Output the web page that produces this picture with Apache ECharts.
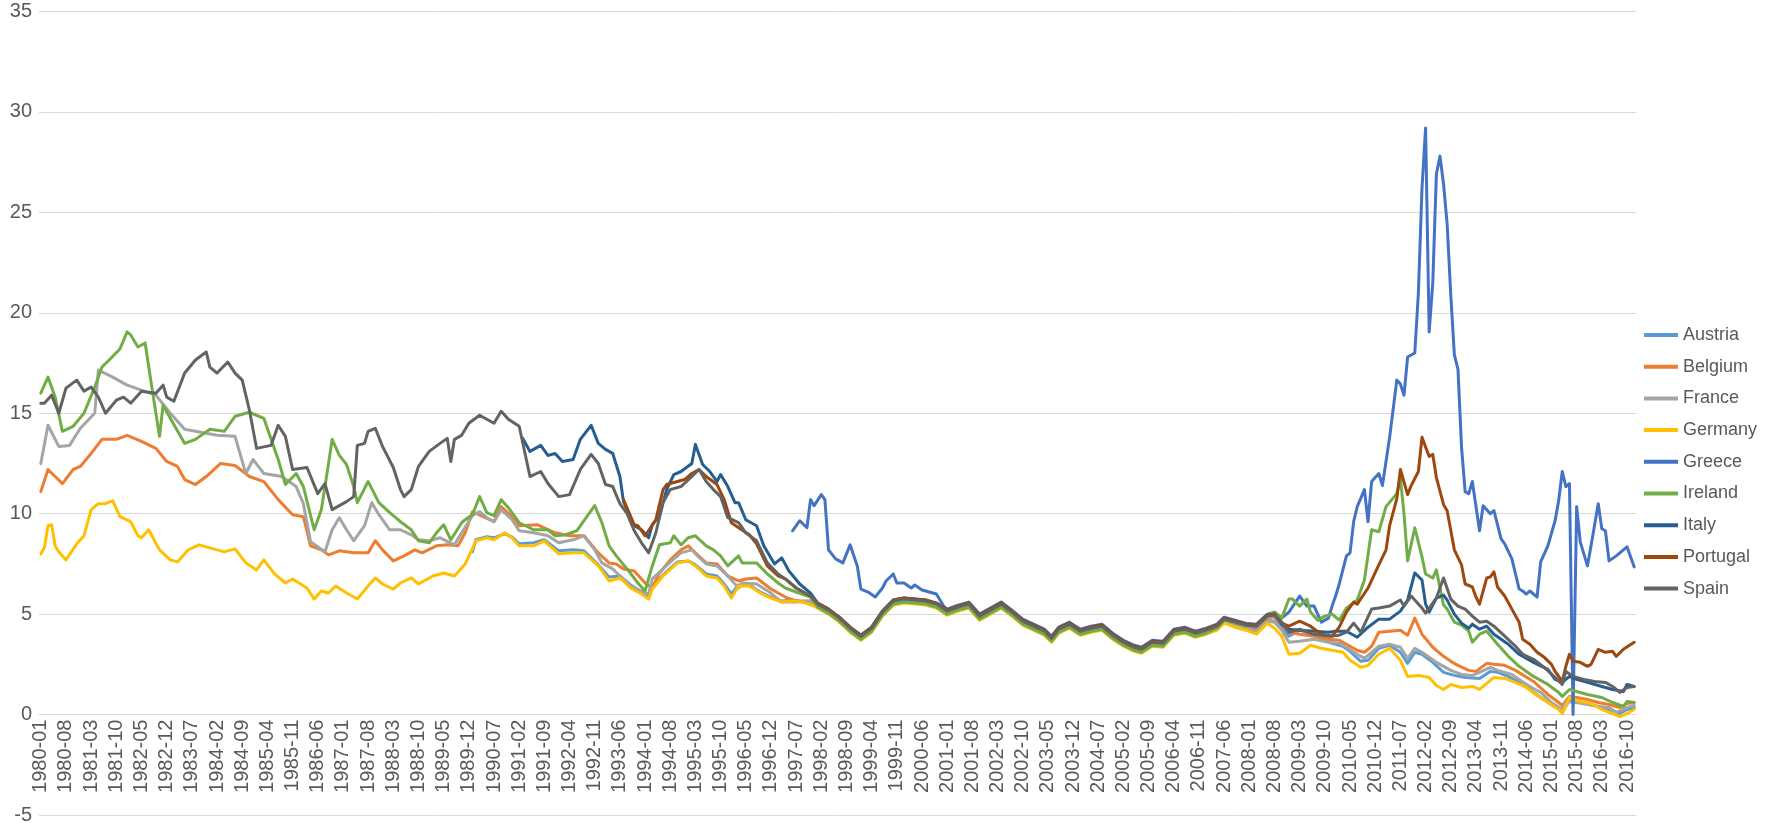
<!DOCTYPE html>
<html>
<head>
<meta charset="utf-8">
<script src="https://cdn.jsdelivr.net/npm/echarts@6/dist/echarts.min.js"></script>
<style>
html,body{margin:0;padding:0;background:#fff;}
#chart{width:1785px;height:823px;}
</style>
</head>
<body>
<div id="chart"></div>
<script>
// ---------- categories (monthly, 1980-01 .. 2016-12) ----------
const months = [];
for (let y = 1980; y <= 2016; y++) {
  for (let m = 1; m <= 12; m++) months.push(y + '-' + (m < 10 ? '0' + m : m));
}
const seriesNames = ['Austria','Belgium','France','Germany','Greece','Ireland','Italy','Portugal','Spain'];
const yTicks = [-5, 0, 5, 10, 15, 20, 25, 30, 35];

// sampled months of the converged period (1998-2008)
const convMonths = ['1998-01','1998-04','1998-07','1998-10','1999-01','1999-04','1999-07','1999-10','2000-01','2000-04','2000-07','2000-10','2001-01','2001-04','2001-07','2001-10','2002-01','2002-04','2002-07','2002-10','2003-01','2003-04','2003-06','2003-08','2003-11','2004-02','2004-05','2004-08','2004-11','2005-02','2005-05','2005-07','2005-10','2006-01','2006-04','2006-07','2006-10','2007-01','2007-04','2007-06','2007-09','2007-12','2008-03','2008-06','2008-08','2008-10'];

// ---------- Austria ----------
const austriaEarly = [['1990-01',8.1],['1990-02',8.7],['1990-05',8.85],['1990-07',8.8],['1990-10',9.0],['1990-12',8.85],['1991-02',8.5],['1991-06',8.55],['1991-09',8.7],['1992-01',8.15],['1992-05',8.2],['1992-08',8.15],['1992-12',7.45],['1993-03',6.85],['1993-06',6.9],['1993-09',6.45],['1993-12',6.1],['1994-02',5.85],['1994-03',6.35],['1994-06',6.95],['1994-10',7.6],['1995-01',7.65],['1995-03',7.45],['1995-06',7.0],['1995-09',6.9],['1995-11',6.5],['1996-01',6.0],['1996-03',6.45],['1996-06',6.45],['1996-09',6.1],['1996-12',5.85],['1997-03',5.65],['1997-06',5.7],['1997-09',5.6],['1997-12',5.45]];
const austriaConv = [5.4,5.1,4.7,4.2,3.8,4.2,5.0,5.55,5.65,5.6,5.55,5.4,5.05,5.25,5.4,4.8,5.1,5.4,5.0,4.55,4.3,4.05,3.7,4.15,4.4,4.05,4.2,4.3,3.85,3.5,3.25,3.15,3.5,3.45,4.05,4.15,3.95,4.1,4.3,4.65,4.5,4.35,4.25,4.7,4.65,4.3];
const austriaLate = [['2008-12',3.9],['2009-03',4.2],['2009-06',4.0],['2009-09',3.75],['2009-12',3.55],['2010-03',3.4],['2010-05',3.15],['2010-08',2.65],['2010-10',2.7],['2011-01',3.3],['2011-04',3.45],['2011-07',3.1],['2011-09',2.55],['2011-11',3.1],['2012-01',3.0],['2012-04',2.6],['2012-07',2.1],['2012-10',1.95],['2013-01',1.85],['2013-05',1.8],['2013-08',2.15],['2013-10',2.1],['2014-01',1.9],['2014-04',1.6],['2014-07',1.25],['2014-10',0.85],['2015-01',0.5],['2015-04',0.15],['2015-06',0.7],['2015-09',0.6],['2015-12',0.5],['2016-03',0.35],['2016-06',0.2],['2016-08',0.05],['2016-10',0.25],['2016-12',0.35]];

// ---------- Belgium ----------
const belgiumEarly = [['1980-01',11.1],['1980-03',12.2],['1980-05',11.85],['1980-07',11.5],['1980-10',12.2],['1980-12',12.35],['1981-03',13.0],['1981-06',13.7],['1981-10',13.7],['1982-01',13.9],['1982-05',13.6],['1982-09',13.25],['1982-12',12.6],['1983-03',12.35],['1983-05',11.7],['1983-08',11.45],['1983-11',11.85],['1984-03',12.5],['1984-07',12.4],['1984-11',11.85],['1985-03',11.6],['1985-07',10.7],['1985-11',9.95],['1986-02',9.85],['1986-04',8.4],['1986-07',8.2],['1986-09',7.95],['1986-12',8.15],['1987-04',8.05],['1987-08',8.05],['1987-10',8.65],['1987-12',8.2],['1988-03',7.65],['1988-06',7.9],['1988-09',8.2],['1988-11',8.05],['1989-03',8.4],['1989-06',8.45],['1989-09',8.4],['1989-11',9.05],['1990-01',10.1],['1990-04',9.85],['1990-07',9.6],['1990-09',10.35],['1990-12',9.85],['1991-02',9.4],['1991-07',9.45],['1991-12',9.05],['1992-04',8.9],['1992-08',8.9],['1992-12',8.05],['1993-03',7.55],['1993-05',7.5],['1993-07',7.25],['1993-10',7.15],['1994-01',6.55],['1994-03',6.3],['1994-05',7.05],['1994-08',7.7],['1994-11',8.2],['1995-01',8.4],['1995-03',8.05],['1995-06',7.55],['1995-09',7.5],['1995-12',6.9],['1996-03',6.65],['1996-05',6.75],['1996-08',6.8],['1996-12',6.25],['1997-04',5.85],['1997-07',5.65],['1997-11',5.65]];
const belgiumConv = [5.45,5.15,4.75,4.25,3.85,4.25,5.05,5.6,5.7,5.65,5.6,5.45,5.1,5.3,5.45,4.85,5.15,5.45,5.05,4.6,4.35,4.1,3.75,4.2,4.45,4.1,4.25,4.35,3.9,3.55,3.3,3.2,3.55,3.5,4.1,4.2,4.0,4.15,4.35,4.7,4.55,4.4,4.35,4.85,4.85,4.5];
const belgiumLate = [['2008-12',4.1],['2009-03',4.0],['2009-07',3.9],['2009-11',3.75],['2010-02',3.7],['2010-04',3.5],['2010-07',3.2],['2010-09',3.1],['2010-11',3.4],['2011-01',4.1],['2011-04',4.15],['2011-07',4.2],['2011-09',3.95],['2011-11',4.8],['2012-01',4.0],['2012-04',3.35],['2012-07',2.9],['2012-09',2.65],['2012-11',2.45],['2013-02',2.2],['2013-04',2.15],['2013-07',2.55],['2013-09',2.5],['2013-12',2.45],['2014-03',2.2],['2014-08',1.65],['2014-12',1.0],['2015-03',0.6],['2015-04',0.45],['2015-06',0.9],['2015-08',0.85],['2015-11',0.75],['2016-02',0.6],['2016-05',0.5],['2016-08',0.35],['2016-10',0.55],['2016-12',0.6]];

// ---------- France ----------
const franceEarly = [['1980-01',12.5],['1980-03',14.4],['1980-06',13.35],['1980-09',13.4],['1980-12',14.25],['1981-04',15.0],['1981-05',17.15],['1981-09',16.8],['1982-01',16.4],['1982-05',16.15],['1982-09',15.9],['1983-01',15.0],['1983-05',14.2],['1983-08',14.1],['1984-02',13.9],['1984-07',13.85],['1984-10',12.0],['1984-12',12.7],['1985-03',12.0],['1985-08',11.85],['1985-12',11.35],['1986-02',10.5],['1986-04',8.6],['1986-08',8.1],['1986-10',9.2],['1986-12',9.8],['1987-02',9.2],['1987-04',8.65],['1987-07',9.4],['1987-09',10.55],['1987-11',9.95],['1988-02',9.2],['1988-05',9.2],['1988-08',8.95],['1988-10',8.7],['1989-01',8.65],['1989-04',8.8],['1989-08',8.45],['1989-10',9.05],['1990-01',9.9],['1990-03',10.1],['1990-05',9.8],['1990-07',9.6],['1990-09',10.2],['1990-12',9.7],['1991-02',9.15],['1991-06',9.05],['1991-10',8.9],['1992-01',8.55],['1992-05',8.7],['1992-08',8.9],['1992-11',8.2],['1993-01',7.55],['1993-04',7.25],['1993-06',6.9],['1993-09',6.4],['1993-12',6.15],['1994-02',6.0],['1994-03',6.75],['1994-06',7.25],['1994-09',7.75],['1994-11',8.05],['1995-02',8.2],['1995-03',8.0],['1995-06',7.5],['1995-09',7.4],['1995-12',6.9],['1996-03',6.3],['1996-04',6.55],['1996-08',6.5],['1996-12',6.05],['1997-03',5.6],['1997-07',5.6],['1997-11',5.65]];
const franceConv = [5.4,5.1,4.7,4.2,3.8,4.2,5.0,5.55,5.65,5.6,5.55,5.4,5.05,5.25,5.4,4.8,5.1,5.4,5.0,4.55,4.3,4.05,3.7,4.15,4.4,4.05,4.2,4.3,3.85,3.5,3.25,3.15,3.5,3.45,4.05,4.15,3.95,4.1,4.3,4.65,4.5,4.3,4.15,4.65,4.6,4.2];
const franceLate = [['2008-12',3.6],['2009-03',3.65],['2009-07',3.75],['2009-11',3.6],['2010-02',3.55],['2010-04',3.35],['2010-07',3.0],['2010-09',2.8],['2011-01',3.4],['2011-04',3.5],['2011-07',3.35],['2011-09',2.8],['2011-11',3.3],['2012-01',3.1],['2012-05',2.6],['2012-09',2.2],['2012-12',2.0],['2013-03',1.95],['2013-05',2.1],['2013-08',2.35],['2013-10',2.2],['2014-02',2.0],['2014-04',1.75],['2014-07',1.4],['2014-10',1.1],['2015-01',0.6],['2015-04',0.25],['2015-05',0.65],['2015-08',0.6],['2015-11',0.5],['2016-02',0.4],['2016-05',0.35],['2016-07',0.1],['2016-10',0.35],['2016-12',0.45]];

// ---------- Germany ----------
const germanyEarly = [['1980-01',8.0],['1980-02',8.3],['1980-03',9.4],['1980-04',9.45],['1980-05',8.4],['1980-06',8.1],['1980-08',7.7],['1980-11',8.5],['1981-01',8.9],['1981-03',10.2],['1981-05',10.5],['1981-07',10.5],['1981-09',10.65],['1981-11',9.85],['1982-02',9.6],['1982-04',8.9],['1982-05',8.8],['1982-07',9.2],['1982-10',8.2],['1983-01',7.7],['1983-03',7.6],['1983-06',8.2],['1983-09',8.45],['1983-12',8.3],['1984-04',8.1],['1984-07',8.25],['1984-10',7.55],['1985-01',7.2],['1985-03',7.7],['1985-06',7.0],['1985-09',6.55],['1985-11',6.75],['1986-03',6.3],['1986-05',5.75],['1986-07',6.15],['1986-09',6.05],['1986-11',6.4],['1987-02',6.05],['1987-05',5.75],['1987-08',6.4],['1987-10',6.8],['1987-12',6.5],['1988-03',6.25],['1988-05',6.55],['1988-08',6.8],['1988-10',6.5],['1989-02',6.9],['1989-05',7.05],['1989-08',6.9],['1989-11',7.5],['1990-02',8.65],['1990-05',8.8],['1990-07',8.7],['1990-10',9.05],['1990-12',8.8],['1991-02',8.4],['1991-06',8.4],['1991-09',8.65],['1992-01',8.0],['1992-05',8.05],['1992-08',8.05],['1992-12',7.4],['1993-03',6.65],['1993-06',6.8],['1993-09',6.3],['1993-12',6.0],['1994-02',5.75],['1994-03',6.25],['1994-06',6.9],['1994-10',7.55],['1995-01',7.65],['1995-03',7.4],['1995-06',6.9],['1995-09',6.8],['1995-11',6.4],['1996-01',5.8],['1996-03',6.4],['1996-06',6.4],['1996-09',6.05],['1996-12',5.8],['1997-03',5.6],['1997-06',5.65],['1997-09',5.6],['1997-12',5.4]];
const germanyConv = [5.3,5.0,4.6,4.1,3.7,4.1,4.9,5.45,5.55,5.5,5.45,5.3,4.95,5.15,5.3,4.7,5.0,5.3,4.9,4.45,4.2,3.95,3.6,4.05,4.3,3.95,4.1,4.2,3.75,3.4,3.15,3.05,3.4,3.35,3.95,4.05,3.85,4.0,4.2,4.55,4.35,4.2,4.0,4.55,4.3,3.9];
const germanyLate = [['2008-12',3.0],['2009-03',3.05],['2009-06',3.45],['2009-09',3.3],['2009-12',3.2],['2010-03',3.1],['2010-05',2.7],['2010-08',2.35],['2010-10',2.45],['2011-01',3.0],['2011-04',3.3],['2011-07',2.7],['2011-09',1.9],['2011-12',1.95],['2012-03',1.85],['2012-05',1.45],['2012-07',1.25],['2012-09',1.5],['2012-12',1.35],['2013-03',1.4],['2013-05',1.25],['2013-09',1.85],['2013-12',1.8],['2014-03',1.6],['2014-06',1.35],['2014-09',0.95],['2014-12',0.6],['2015-03',0.25],['2015-04',0.05],['2015-06',0.85],['2015-09',0.65],['2015-12',0.55],['2016-03',0.25],['2016-06',0.05],['2016-08',-0.1],['2016-10',0.05],['2016-12',0.25]];

// ---------- Greece ----------
const greeceEarly = [['1997-06',9.15],['1997-08',9.65],['1997-10',9.3],['1997-11',10.7],['1997-12',10.4],['1998-02',10.95],['1998-03',10.7],['1998-04',8.2],['1998-06',7.75],['1998-08',7.55],['1998-10',8.45],['1998-12',7.4],['1999-01',6.25],['1999-03',6.1],['1999-05',5.85],['1999-07',6.3],['1999-08',6.65],['1999-10',7.0],['1999-11',6.55],['2000-01',6.55],['2000-03',6.3],['2000-04',6.45],['2000-06',6.2],['2000-08',6.1],['2000-10',6.0],['2000-12',5.4]];
const greeceConv = [null,null,null,null,null,null,null,null,null,null,null,null,5.25,5.45,5.6,5.0,5.3,5.6,5.2,4.75,4.5,4.25,3.9,4.35,4.6,4.25,4.4,4.5,4.05,3.7,3.45,3.35,3.7,3.65,4.25,4.35,4.15,4.3,4.5,4.85,4.7,4.55,4.5,5.0,5.1,4.8];
const greeceLate = [['2008-12',5.1],['2009-03',5.9],['2009-05',5.4],['2009-07',5.4],['2009-09',4.6],['2009-11',4.8],['2009-12',5.4],['2010-01',5.9],['2010-02',6.5],['2010-04',7.9],['2010-05',8.05],['2010-06',9.6],['2010-07',10.35],['2010-09',11.2],['2010-10',9.6],['2010-11',11.6],['2011-01',12.0],['2011-02',11.4],['2011-04',13.8],['2011-06',16.65],['2011-07',16.45],['2011-08',15.9],['2011-09',17.8],['2011-11',18.0],['2011-12',21.0],['2012-01',26.2],['2012-02',29.2],['2012-03',19.05],['2012-04',21.5],['2012-05',26.9],['2012-06',27.8],['2012-07',26.4],['2012-08',24.4],['2012-09',20.9],['2012-10',17.9],['2012-11',17.2],['2012-12',13.3],['2013-01',11.1],['2013-02',11.0],['2013-03',11.6],['2013-05',9.15],['2013-06',10.4],['2013-08',10.0],['2013-09',10.15],['2013-11',8.75],['2013-12',8.5],['2014-02',7.75],['2014-04',6.25],['2014-05',6.15],['2014-06',6.0],['2014-07',6.15],['2014-09',5.85],['2014-10',7.6],['2014-12',8.4],['2015-02',9.65],['2015-03',10.65],['2015-04',12.1],['2015-05',11.35],['2015-06',11.5],['2015-07',0],['2015-08',10.35],['2015-09',8.6],['2015-11',7.4],['2015-12',8.4],['2016-02',10.5],['2016-03',9.25],['2016-04',9.15],['2016-05',7.65],['2016-07',7.9],['2016-10',8.35],['2016-12',7.35]];

// ---------- Ireland ----------
const irelandEarly = [['1980-01',16.0],['1980-03',16.8],['1980-05',15.8],['1980-07',14.1],['1980-10',14.35],['1981-01',15.0],['1981-04',16.3],['1981-06',17.3],['1981-08',17.65],['1981-11',18.2],['1982-01',19.05],['1982-02',18.9],['1982-04',18.3],['1982-06',18.5],['1982-08',16.15],['1982-10',13.85],['1982-11',15.4],['1983-01',14.75],['1983-05',13.5],['1983-08',13.7],['1983-12',14.2],['1984-04',14.1],['1984-07',14.85],['1984-11',15.05],['1985-03',14.75],['1985-07',12.7],['1985-09',11.45],['1985-12',12.0],['1986-02',11.35],['1986-05',9.2],['1986-07',10.2],['1986-09',12.5],['1986-10',13.7],['1986-12',12.9],['1987-02',12.45],['1987-04',11.35],['1987-05',10.55],['1987-08',11.6],['1987-11',10.55],['1988-02',10.05],['1988-05',9.6],['1988-08',9.2],['1988-10',8.65],['1989-01',8.55],['1989-03',9.05],['1989-05',9.45],['1989-07',8.7],['1989-10',9.55],['1989-11',9.7],['1990-01',9.95],['1990-03',10.85],['1990-05',10.05],['1990-07',9.9],['1990-09',10.7],['1990-11',10.3],['1991-02',9.55],['1991-06',9.2],['1991-10',9.2],['1991-12',8.9],['1992-03',8.95],['1992-06',9.15],['1992-09',9.9],['1992-11',10.4],['1993-01',9.55],['1993-03',8.4],['1993-05',7.9],['1993-08',7.25],['1993-11',6.55],['1994-01',6.15],['1994-03',7.4],['1994-05',8.45],['1994-08',8.55],['1994-09',8.9],['1994-11',8.45],['1995-01',8.8],['1995-03',8.9],['1995-06',8.4],['1995-08',8.2],['1995-10',7.9],['1995-12',7.4],['1996-03',7.9],['1996-04',7.55],['1996-08',7.55],['1996-11',7.0],['1997-02',6.55],['1997-04',6.3],['1997-07',6.1],['1997-11',5.85]];
const irelandConv = [5.35,5.05,4.65,4.15,3.75,4.15,4.95,5.5,5.6,5.55,5.5,5.35,5.0,5.2,5.35,4.75,5.05,5.35,4.95,4.5,4.25,4.0,3.65,4.1,4.35,4.0,4.15,4.25,3.8,3.45,3.2,3.1,3.45,3.4,4.0,4.1,3.9,4.05,4.3,4.7,4.55,4.45,4.45,4.95,5.1,4.8];
const irelandLate = [['2008-12',5.75],['2009-01',5.75],['2009-03',5.4],['2009-05',5.75],['2009-06',5.1],['2009-08',4.7],['2009-10',4.9],['2009-12',5.0],['2010-02',4.7],['2010-04',5.3],['2010-07',5.7],['2010-09',6.7],['2010-11',9.2],['2011-01',9.1],['2011-03',10.35],['2011-06',11.0],['2011-07',11.75],['2011-08',10.0],['2011-09',7.65],['2011-11',9.3],['2012-01',7.85],['2012-02',7.0],['2012-04',6.8],['2012-05',7.2],['2012-07',5.45],['2012-08',5.25],['2012-10',4.6],['2012-12',4.45],['2013-02',4.15],['2013-03',3.6],['2013-05',4.0],['2013-07',4.15],['2013-10',3.5],['2014-01',2.9],['2014-04',2.4],['2014-08',1.9],['2014-12',1.5],['2015-03',1.1],['2015-04',0.9],['2015-06',1.25],['2015-08',1.15],['2015-11',1.0],['2016-03',0.85],['2016-06',0.6],['2016-09',0.4],['2016-10',0.65],['2016-12',0.6]];

// ---------- Italy ----------
const italyEarly = [['1991-03',13.75],['1991-05',13.1],['1991-08',13.4],['1991-10',12.9],['1991-12',13.0],['1992-02',12.6],['1992-05',12.7],['1992-07',13.7],['1992-10',14.4],['1992-12',13.5],['1993-02',13.2],['1993-04',13.0],['1993-06',11.85],['1993-07',10.6],['1993-10',9.4],['1993-12',9.2],['1994-02',8.8],['1994-03',9.45],['1994-05',9.9],['1994-07',11.2],['1994-09',11.95],['1994-11',12.1],['1995-02',12.5],['1995-03',13.45],['1995-05',12.45],['1995-07',12.1],['1995-09',11.6],['1995-10',11.95],['1995-12',11.35],['1996-02',10.55],['1996-03',10.55],['1996-05',9.7],['1996-08',9.4],['1996-10',8.4],['1997-01',7.5],['1997-03',7.8],['1997-05',7.15],['1997-08',6.5],['1997-11',6.05]];
const italyConv = [5.55,5.25,4.85,4.35,3.95,4.35,5.15,5.7,5.8,5.75,5.7,5.55,5.2,5.4,5.55,4.95,5.25,5.55,5.15,4.7,4.45,4.2,3.85,4.3,4.55,4.2,4.35,4.45,4.0,3.65,3.4,3.3,3.65,3.6,4.2,4.3,4.1,4.25,4.45,4.8,4.65,4.5,4.45,4.95,5.0,4.5];
const italyLate = [['2008-12',4.25],['2009-03',4.2],['2009-07',4.15],['2009-11',4.1],['2010-01',4.15],['2010-04',4.15],['2010-07',3.85],['2010-10',4.35],['2011-01',4.75],['2011-04',4.75],['2011-07',5.15],['2011-09',5.7],['2011-11',7.05],['2012-01',6.7],['2012-02',5.5],['2012-03',5.1],['2012-05',5.8],['2012-07',5.95],['2012-08',5.7],['2012-10',5.0],['2012-12',4.55],['2013-02',4.3],['2013-03',4.5],['2013-05',4.25],['2013-07',4.4],['2013-09',4.0],['2014-01',3.5],['2014-04',3.0],['2014-08',2.6],['2014-12',2.25],['2015-02',1.75],['2015-04',1.6],['2015-06',1.9],['2015-08',1.75],['2015-11',1.6],['2016-03',1.4],['2016-06',1.25],['2016-09',1.15],['2016-10',1.5],['2016-12',1.4]];

// ---------- Portugal ----------
const portugalEarly = [['1993-07',10.7],['1993-10',9.45],['1993-11',9.4],['1994-01',8.9],['1994-04',9.7],['1994-06',11.2],['1994-07',11.45],['1994-10',11.6],['1994-12',11.7],['1995-02',12.0],['1995-04',12.2],['1995-06',11.85],['1995-09',11.45],['1995-11',10.7],['1996-01',9.55],['1996-03',9.3],['1996-06',8.95],['1996-08',8.5],['1996-11',7.4],['1997-02',6.9],['1997-04',6.75],['1997-07',6.3],['1997-11',5.9]];
const portugalConv = [5.55,5.25,4.85,4.35,3.95,4.35,5.15,5.7,5.8,5.75,5.7,5.55,5.2,5.4,5.55,4.95,5.25,5.55,5.15,4.7,4.45,4.2,3.85,4.3,4.55,4.2,4.35,4.45,4.0,3.65,3.4,3.3,3.65,3.6,4.2,4.3,4.1,4.25,4.45,4.8,4.65,4.5,4.45,4.95,5.0,4.55];
const portugalLate = [['2008-12',4.4],['2009-03',4.65],['2009-06',4.4],['2009-09',4.0],['2009-12',3.9],['2010-02',4.35],['2010-04',5.1],['2010-06',5.6],['2010-07',5.5],['2010-10',6.3],['2011-01',7.45],['2011-03',8.2],['2011-04',9.4],['2011-06',10.75],['2011-07',12.2],['2011-09',10.95],['2011-10',11.4],['2011-12',12.1],['2012-01',13.8],['2012-03',12.85],['2012-04',12.95],['2012-05',11.8],['2012-07',10.45],['2012-08',10.15],['2012-10',8.2],['2012-12',7.45],['2013-01',6.5],['2013-03',6.35],['2013-04',5.85],['2013-05',5.5],['2013-07',6.8],['2013-08',6.85],['2013-09',7.1],['2013-10',6.35],['2013-12',5.9],['2014-02',5.25],['2014-04',4.6],['2014-05',3.75],['2014-07',3.5],['2014-09',3.1],['2014-11',2.85],['2015-01',2.5],['2015-02',2.15],['2015-04',1.65],['2015-05',2.4],['2015-06',3.0],['2015-07',2.65],['2015-09',2.6],['2015-11',2.4],['2015-12',2.5],['2016-02',3.25],['2016-04',3.1],['2016-06',3.15],['2016-07',2.9],['2016-09',3.25],['2016-12',3.6]];

// ---------- Spain ----------
const spainEarly = [['1980-01',15.5],['1980-02',15.5],['1980-04',15.9],['1980-06',15.0],['1980-08',16.25],['1980-11',16.65],['1981-01',16.1],['1981-03',16.3],['1981-05',15.8],['1981-07',15.0],['1981-10',15.65],['1981-12',15.8],['1982-02',15.5],['1982-05',16.1],['1982-09',16.0],['1982-11',16.4],['1982-12',15.8],['1983-02',15.6],['1983-05',17.0],['1983-08',17.65],['1983-11',18.05],['1983-12',17.3],['1984-02',17.0],['1984-05',17.55],['1984-07',17.0],['1984-09',16.65],['1984-11',15.15],['1985-01',13.25],['1985-05',13.4],['1985-07',14.4],['1985-09',13.85],['1985-11',12.2],['1986-03',12.3],['1986-06',11.0],['1986-08',11.5],['1986-10',10.2],['1987-02',10.6],['1987-04',10.85],['1987-05',13.4],['1987-07',13.5],['1987-08',14.1],['1987-10',14.25],['1987-12',13.35],['1988-03',12.3],['1988-05',11.2],['1988-06',10.85],['1988-08',11.2],['1988-10',12.35],['1989-01',13.1],['1989-04',13.5],['1989-06',13.75],['1989-07',12.6],['1989-08',13.7],['1989-10',13.9],['1989-12',14.5],['1990-03',14.9],['1990-07',14.5],['1990-09',15.1],['1990-11',14.7],['1991-02',14.35],['1991-05',11.85],['1991-08',12.1],['1991-10',11.5],['1992-01',10.85],['1992-04',10.95],['1992-07',12.2],['1992-10',12.95],['1992-12',12.5],['1993-02',11.45],['1993-04',11.35],['1993-06',10.5],['1993-08',10.0],['1993-10',9.15],['1993-12',8.55],['1994-02',8.05],['1994-04',9.05],['1994-06',10.55],['1994-08',11.2],['1994-11',11.35],['1995-02',11.85],['1995-04',12.2],['1995-06',11.6],['1995-08',11.2],['1995-10',10.85],['1995-12',9.8],['1996-03',9.55],['1996-05',9.05],['1996-08',8.65],['1996-11',7.55],['1997-02',7.0],['1997-04',6.75],['1997-07',6.3],['1997-11',5.9]];
const spainConv = [5.5,5.2,4.8,4.3,3.9,4.3,5.1,5.65,5.75,5.7,5.65,5.5,5.15,5.35,5.5,4.9,5.2,5.5,5.1,4.65,4.4,4.15,3.8,4.25,4.5,4.15,4.3,4.4,3.95,3.6,3.35,3.25,3.6,3.55,4.15,4.25,4.05,4.2,4.4,4.75,4.6,4.45,4.4,4.9,4.95,4.6];
const spainLate = [['2008-12',4.1],['2009-03',4.25],['2009-07',4.0],['2009-11',3.9],['2010-02',3.95],['2010-04',4.1],['2010-06',4.55],['2010-08',4.1],['2010-11',5.25],['2011-01',5.3],['2011-04',5.4],['2011-07',5.7],['2011-08',5.4],['2011-10',5.9],['2012-01',5.3],['2012-02',5.05],['2012-05',5.8],['2012-07',6.8],['2012-09',5.75],['2012-11',5.4],['2013-01',5.25],['2013-03',4.9],['2013-05',4.6],['2013-07',4.65],['2013-09',4.4],['2013-12',3.9],['2014-03',3.4],['2014-05',3.0],['2014-08',2.75],['2014-11',2.35],['2015-02',1.85],['2015-04',1.5],['2015-05',2.15],['2015-07',1.9],['2015-10',1.75],['2016-01',1.65],['2016-04',1.6],['2016-06',1.4],['2016-08',1.1],['2016-10',1.35],['2016-12',1.4]];

// ---------- assemble ----------
function join(early, conv, late) {
  const mid = [];
  convMonths.forEach((m, i) => { if (conv[i] != null) mid.push([m, conv[i]]); });
  return early.concat(mid, late);
}
const seriesData = {
  Austria: join(austriaEarly, austriaConv, austriaLate),
  Belgium: join(belgiumEarly, belgiumConv, belgiumLate),
  France: join(franceEarly, franceConv, franceLate),
  Germany: join(germanyEarly, germanyConv, germanyLate),
  Greece: join(greeceEarly, greeceConv, greeceLate),
  Ireland: join(irelandEarly, irelandConv, irelandLate),
  Italy: join(italyEarly, italyConv, italyLate),
  Portugal: join(portugalEarly, portugalConv, portugalLate),
  Spain: join(spainEarly, spainConv, spainLate)
};
const colors = {
  Austria: '#5B9BD5', Belgium: '#ED7D31', France: '#A5A5A5', Germany: '#FFC000',
  Greece: '#4472C4', Ireland: '#70AD47', Italy: '#255E91', Portugal: '#9E480E', Spain: '#636363'
};

const FONT = "Arial, 'Liberation Sans', sans-serif";
const GRID_TOP = 11.5, GRID_BOTTOM = 8;
const plotH = 823 - GRID_TOP - GRID_BOTTOM;
// distance from the bottom gridline (-5) up to the zero line
const zeroOffset = plotH * (0 - yTicks[0]) / (yTicks[yTicks.length - 1] - yTicks[0]);

const chart = echarts.init(document.getElementById('chart'), null, { renderer: 'canvas' });
chart.setOption({
  animation: false,
  backgroundColor: '#ffffff',
  textStyle: { fontFamily: FONT },
  grid: { left: 39, right: 149, top: GRID_TOP, bottom: GRID_BOTTOM, containLabel: false, outerBoundsMode: 'none' },
  legend: {
    orient: 'vertical',
    left: 1639,
    top: 319,
    icon: 'rect',
    itemWidth: 34,
    itemHeight: 4,
    itemGap: 9.7,
    data: seriesNames,
    textStyle: { color: '#595959', fontSize: 18, fontFamily: FONT, lineHeight: 22 }
  },
  xAxis: {
    type: 'category',
    data: months,
    boundaryGap: true,
    position: 'bottom',
    offset: -zeroOffset,
    axisLine: { onZero: false, lineStyle: { color: '#D9D9D9', width: 1 } },
    axisTick: { show: false },
    axisLabel: { interval: 6, rotate: 90, color: '#595959', fontSize: 20, margin: 5, fontFamily: FONT },
    splitLine: { show: false }
  },
  yAxis: {
    type: 'value',
    min: yTicks[0],
    max: yTicks[yTicks.length - 1],
    interval: 5,
    axisLine: { show: false },
    axisTick: { show: false },
    axisLabel: { color: '#595959', fontSize: 20, margin: 7, fontFamily: FONT },
    splitLine: { lineStyle: { color: '#D9D9D9', width: 1 } }
  },
  series: seriesNames.map(name => ({
    name: name,
    type: 'line',
    data: seriesData[name],
    showSymbol: false,
    symbol: 'none',
    color: colors[name],
    lineStyle: { color: colors[name], width: 3, cap: 'round', join: 'round' }
  }))
});
</script>
</body>
</html>
